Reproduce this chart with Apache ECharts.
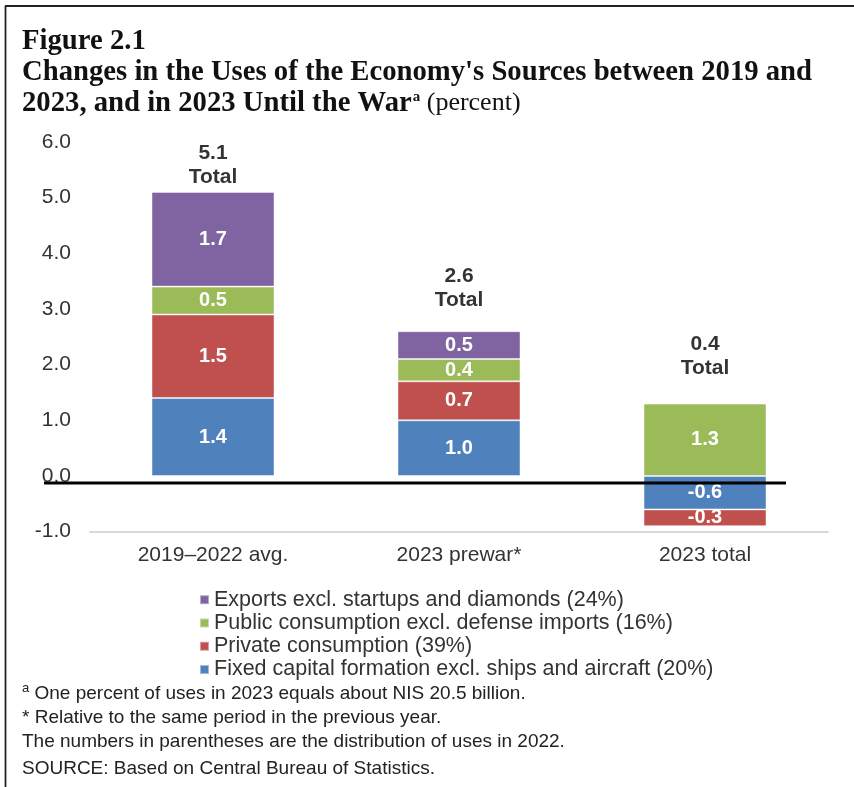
<!DOCTYPE html>
<html>
<head>
<meta charset="utf-8">
<script src="https://cdn.jsdelivr.net/npm/echarts@6/dist/echarts.min.js"></script>
<style>
  html, body { margin: 0; padding: 0; background: #fff; }
  #chart { width: 854px; height: 787px; }
</style>
</head>
<body>
<div id="chart"></div>
<script>
// ---- data ----
const categories = ['2019–2022 avg.', '2023 prewar*', '2023 total'];
const seriesNames = [
  'Fixed capital formation excl. ships and aircraft (20%)',
  'Private consumption (39%)',
  'Public consumption excl. defense imports (16%)',
  'Exports excl. startups and diamonds (24%)'
];
const fixedCapital = [1.4, 1.0, -0.6];
const privateConsumption = [1.5, 0.7, -0.3];
const publicConsumption = [0.5, 0.4, 1.3];
const exportsVals = [1.7, 0.5, 0.0];
const totals = [5.1, 2.6, 0.4];
const yMin = -1, yMax = 6, yStep = 1;

const colors = ['#4F81BD', '#C0504D', '#9BBB59', '#8064A2'];
const seriesValues = [fixedCapital, privateConsumption, publicConsumption, exportsVals];
// gap between total label and bar top (layout only)
const totalLabelGap = [3, 19, 23];

const positiveTops = categories.map((_, i) =>
  seriesValues.reduce((s, arr) => s + Math.max(0, arr[i]), 0));

const sans = "'Liberation Sans', Arial, sans-serif";
const serif = "'Liberation Serif', 'Times New Roman', serif";

const chart = echarts.init(document.getElementById('chart'), null, { renderer: 'canvas' });

const barSeries = seriesValues.map((vals, k) => ({
  name: seriesNames[k],
  type: 'bar',
  stack: 'uses',
  barWidth: '50%',
  data: vals,
  itemStyle: { color: colors[k], borderColor: 'rgba(255,255,255,0.45)', borderWidth: 1 },
  label: {
    show: true,
    position: 'inside',
    color: '#fff',
    fontFamily: sans,
    fontWeight: 'bold',
    fontSize: 20,
    formatter: p => (p.value === 0 ? '' : p.value.toFixed(1))
  },
  emphasis: { disabled: true }
}));

const totalSeries = {
  name: 'Total',
  type: 'scatter',
  symbolSize: 0,
  data: positiveTops.map((v, i) => ({
    value: v,
    label: { distance: totalLabelGap[i] }
  })),
  label: {
    show: true,
    position: 'top',
    color: '#000',
    fontFamily: sans,
    fontWeight: 'bold',
    fontSize: 21,
    lineHeight: 24,
    formatter: p => totals[p.dataIndex].toFixed(1) + '\nTotal'
  },
  z: 5,
  silent: true
};

const option = {
  animation: false,
  backgroundColor: '#fff',
  title: {
    left: 22,
    top: 26,
    padding: 0,
    text: '{b|Figure 2.1}\n{b|Changes in the Uses of the Economy\'s Sources between 2019 and}\n{b|2023, and in 2023 Until the War}{sup|a}{r| (percent)}',
    textStyle: {
      fontWeight: 'normal',
      rich: {
        b: { fontFamily: serif, fontWeight: 'bold', fontSize: 28.7, lineHeight: 31, color: '#111' },
        sup: { fontFamily: serif, fontWeight: 'bold', fontSize: 15, lineHeight: 31, verticalAlign: 'top', padding: [2, 0, 0, 1], color: '#111' },
        r: { fontFamily: serif, fontWeight: 'normal', fontSize: 26, lineHeight: 31, color: '#111' }
      }
    }
  },
  grid: { left: 90, right: 26, top: 141.8, bottom: 255.3, containLabel: false },
  xAxis: {
    type: 'category',
    data: categories,
    axisLine: { onZero: false, lineStyle: { color: '#d9d9d9', width: 2 } },
    axisTick: { show: false },
    axisLabel: { color: '#333', fontFamily: sans, fontSize: 21, margin: 13 }
  },
  yAxis: {
    type: 'value',
    min: yMin,
    max: yMax,
    interval: yStep,
    axisLine: { show: false },
    axisTick: { show: false },
    splitLine: { show: false },
    axisLabel: { color: '#333', fontFamily: sans, fontSize: 21, margin: 19, formatter: v => v.toFixed(1) }
  },
  legend: {
    data: seriesNames.slice().reverse(),
    orient: 'vertical',
    left: 199,
    top: 588,
    padding: 0,
    itemWidth: 9,
    itemHeight: 9,
    itemGap: 0,
    icon: 'rect',
    selectedMode: false,
    textStyle: { color: '#333', fontFamily: sans, fontSize: 21.5, lineHeight: 23.3 }
  },
  series: [...barSeries, totalSeries],
  graphic: [
    { type: 'line', id: 'borderLeft', shape: { x1: 5.5, y1: 6, x2: 5.5, y2: 787 }, style: { stroke: '#222', lineWidth: 1.8 }, silent: true },
    { type: 'line', id: 'borderTop', shape: { x1: 5, y1: 6, x2: 854, y2: 6 }, style: { stroke: '#222', lineWidth: 1.8 }, silent: true },
    {
      type: 'text', id: 'fn1', left: 22, top: 682, silent: true,
      style: {
        text: '{s|a}{n| One percent of uses in 2023 equals about NIS 20.5 billion.}',
        rich: {
          s: { fontFamily: sans, fontSize: 13, verticalAlign: 'top', lineHeight: 24, fill: '#222' },
          n: { fontFamily: sans, fontSize: 19, lineHeight: 24, fill: '#222' }
        }
      }
    },
    { type: 'text', id: 'fn2', left: 22, top: 708, silent: true, style: { text: '* Relative to the same period in the previous year.', font: '19px ' + sans, fill: '#222' } },
    { type: 'text', id: 'fn3', left: 22, top: 732, silent: true, style: { text: 'The numbers in parentheses are the distribution of uses in 2022.', font: '19px ' + sans, fill: '#222' } },
    { type: 'text', id: 'fn4', left: 22, top: 759, silent: true, style: { text: 'SOURCE: Based on Central Bureau of Statistics.', font: '19px ' + sans, fill: '#222' } }
  ]
};

chart.setOption(option);

// black reference line drawn just below the zero level, across the plot
const zeroY = chart.convertToPixel({ yAxisIndex: 0 }, 0);
chart.setOption({
  graphic: [
    { type: 'line', id: 'zeroLine', z: 100, silent: true,
      shape: { x1: 44, y1: zeroY + 7, x2: 786, y2: zeroY + 7 },
      style: { stroke: '#000', lineWidth: 3 } }
  ]
});
</script>
</body>
</html>
